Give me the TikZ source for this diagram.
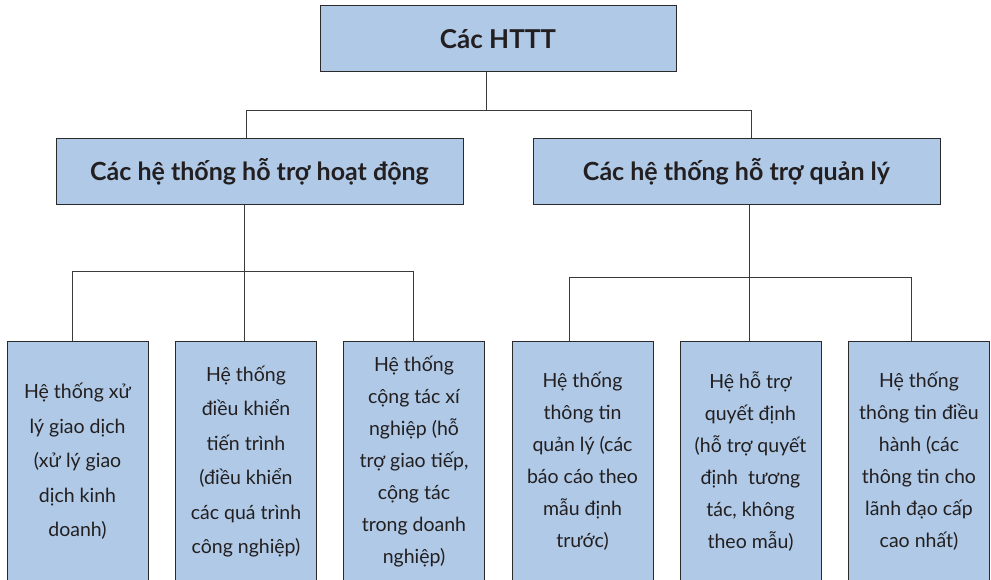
\documentclass[tikz,border=0pt]{standalone}
\usepackage{fontspec}
\setmainfont{Lato}
\usetikzlibrary{positioning,calc}
\definecolor{ink}{HTML}{231F20}
\definecolor{boxLine}{HTML}{2A2A2A}
\definecolor{boxFill}{HTML}{AFC9E7}
\definecolor{wireC}{HTML}{3A3A3A}
\tikzset{
  headbox/.style={draw=boxLine,fill=boxFill,line width=1pt,text=ink,align=center,inner sep=0pt,
    minimum width=356pt,minimum height=66pt,font=\fontsize{26}{30}\selectfont\bfseries},
  groupbox/.style={draw=boxLine,fill=boxFill,line width=1pt,text=ink,align=center,inner sep=0pt,
    minimum width=407pt,minimum height=66pt,font=\fontsize{25}{29}\selectfont\bfseries},
  leaf/.style={draw=boxLine,fill=boxFill,line width=1pt,text=ink,align=center,inner sep=0pt,
    minimum width=141pt,minimum height=241pt,font=\fontsize{19.5}{32}\selectfont},
  wideline/.style={font=\fontsize{19.5}{34.5}\selectfont},
  wire/.style={draw=wireC,line width=1pt}}
\begin{document}
\begin{tikzpicture}[x=1pt,y=1pt]
\useasboundingbox (0,0) rectangle (991,-580);
\clip (0,0) rectangle (991,-580);
\node[headbox] (top) at (498,-39) {Các HTTT};
\node[groupbox] (ops) at (259.5,-172) {Các hệ thống hỗ trợ hoạt động};
\node[groupbox] (mgt) at (736.5,-172) {Các hệ thống hỗ trợ quản lý};
\node[leaf,wideline] (tps) at (77.5,-461.5) {Hệ thống xử\\lý giao dịch\\(xử lý giao\\dịch kinh\\doanh)};
\node[leaf,wideline] (pcs) at (246,-461.5) {Hệ thống\\điều khiển\\tiến trình\\(điều khiển\\các quá trình\\công nghiệp)};
\node[leaf] (ecs) at (414,-461.5) {Hệ thống\\cộng tác xí\\nghiệp (hỗ\\trợ giao tiếp,\\cộng tác\\trong doanh\\nghiệp)};
\node[leaf] (mis) at (582.5,-461.5) {Hệ thống\\thông tin\\quản lý (các\\báo cáo theo\\mẫu định\\trước)};
\node[leaf] (dss) at (750.5,-461.5) {Hệ hỗ trợ\\quyết định\\(hỗ trợ quyết\\định~ tương\\tác, không\\theo mẫu)};
\node[leaf] (eis) at (919,-461.5) {Hệ thống\\thông tin điều\\hành (các\\thông tin cho\\lãnh đạo cấp\\cao nhất)};
\coordinate (hubTop) at (486,-111);
\coordinate (hubOps) at (244,-272);
\coordinate (hubMgt) at (749,-278);
\draw[wire] (top.south -| hubTop) -- (hubTop);
\draw[wire] (ops.north -| 246,0) -- (246,-111) -- (751,-111) -- (mgt.north -| 751,0);
\draw[wire] (ops.south -| hubOps) -- (hubOps);
\draw[wire] (tps.north -| 72,0) -- (72,-272) -- (413,-272) -- (ecs.north -| 413,0);
\draw[wire] (hubOps) -- (pcs.north -| hubOps);
\draw[wire] (mgt.south -| hubMgt) -- (hubMgt);
\draw[wire] (mis.north -| 569,0) -- (569,-278) -- (911,-278) -- (eis.north -| 911,0);
\draw[wire] (hubMgt) -- (dss.north -| hubMgt);
\end{tikzpicture}
\end{document}
